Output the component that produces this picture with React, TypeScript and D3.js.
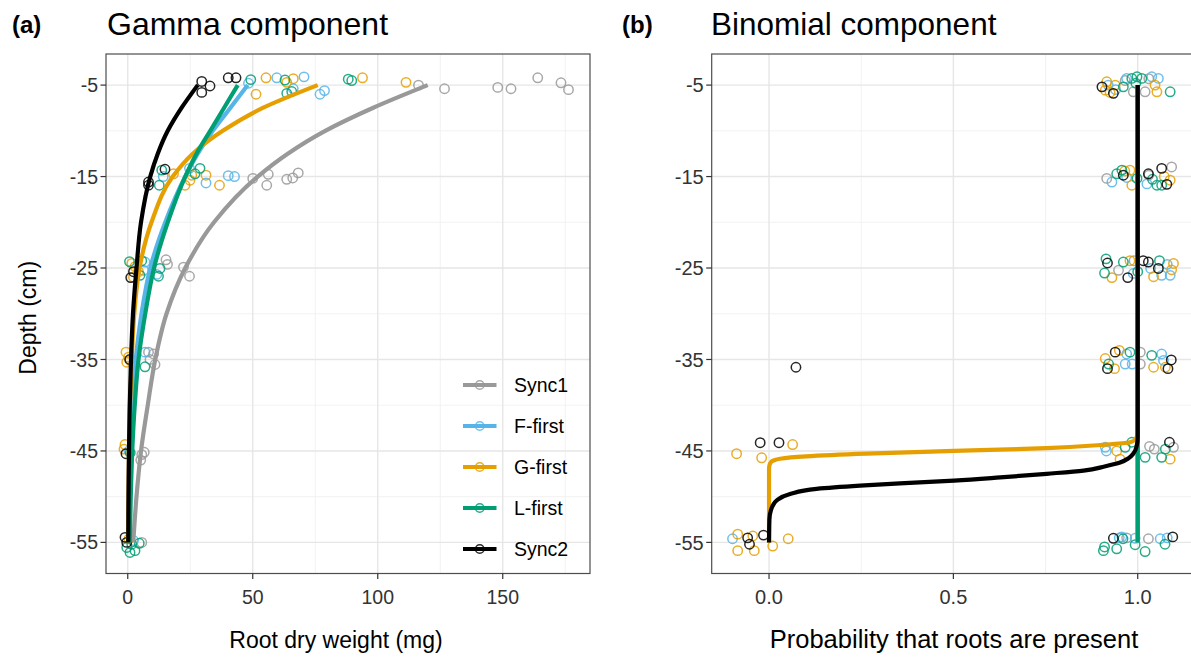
import React from "react";
import * as d3 from "d3";

// ---------- DATA ----------
const groups = ["Sync1", "F-first", "G-first", "L-first", "Sync2"];
const groupColors = ["#999999", "#56B4E9", "#E69F00", "#009E73", "#000000"];

const depthTicks = [-5, -15, -25, -35, -45, -55];
const depthMinor = [-10, -20, -30, -40, -50];
const weightTicks = [0, 50, 100, 150];
const weightMinor = [25, 75, 125, 175];
const probTicks = [0, 0.5, 1];
const probTickLabels = ["0.0", "0.5", "1.0"];
const probMinor = [0.25, 0.75];

// Gamma-component fitted curves (root dry weight, mg) at depths
const gammaDepths = [-5, -7.5, -10, -12.5, -15, -20, -25, -30, -35, -40, -45, -50, -55];
const gammaSync1 = [120, 98, 79, 64, 52, 34.5, 23, 15.5, 11, 8, 5.3, 3.5, 2.2];
const gammaFfirst = [48, 41, 34, 28, 23, 15, 9, 5.5, 3.2, 1.9, 1.2, 0.8, 0.5];
const gammaGfirst = [76, 54, 38, 26, 18, 9.5, 4.7, 2.6, 1.6, 0.9, 0.5, 0.3, 0.2];
const gammaLfirst = [44, 38.5, 33, 27.5, 23, 16, 10.5, 7, 4.3, 2.8, 1.8, 1.2, 0.8];
const gammaSync2 = [28, 21.5, 16, 12, 9, 5.3, 3.5, 2.1, 1.3, 0.8, 0.5, 0.3, 0.2];

// Binomial-component fitted curves (probability) at depths
const binomFlatDepths = [-5, -55];
const binomSync1 = [1, 1];
const binomFfirst = [1, 1];
const binomLfirst = [1, 1];
const binomGfirstDepths = [-5, -43, -43.7, -44.05, -44.35, -44.7, -45.0, -45.3, -45.6, -45.85, -46.05, -46.3, -46.6, -47, -55];
const binomGfirst = [1, 1, 0.995, 0.979, 0.898, 0.753, 0.502, 0.265, 0.1, 0.03, 0.012, 0.004, 0.001, 0, 0];
const binomSync2Depths = [-5, -43.5, -44.5, -45.3, -45.8, -46.3, -46.7, -47.15, -47.5, -47.9, -48.25, -48.55, -48.8, -49.15, -49.7, -50.4, -51, -51.5, -52.5, -55];
const binomSync2 = [1, 1, 0.997, 0.988, 0.975, 0.95, 0.91, 0.853, 0.753, 0.627, 0.502, 0.355, 0.247, 0.129, 0.057, 0.021, 0.01, 0.005, 0.001, 0];

// Observed points: [value, depth]
const ptsGammaSync1 = [
  [116.3, -5.0], [126.7, -5.4], [148, -5.25], [153.3, -5.4], [164, -4.2], [173.3, -4.75], [176.3, -5.5],
  [50, -15.2], [55.6, -15.95], [56.2, -14.75], [63.6, -15.3], [66, -15.15], [68.2, -14.6],
  [15.3, -24.1], [15.9, -24.6], [22.3, -24.9], [24.7, -25.9],
  [8.3, -34.2], [10.3, -34.4], [10.9, -35.55], [8.9, -35.0],
  [5.6, -45.4], [6.6, -45.15], [5.2, -46.0],
  [5.6, -55.0],
];
const ptsGammaFfirst = [
  [48.3, -4.8], [59.6, -4.2], [70.5, -4.1], [66.2, -5.4], [76.9, -6.0], [78.7, -5.6],
  [14.2, -15.0], [24.7, -14.1], [31.3, -15.7], [40.2, -14.9], [42.7, -15.0],
  [6.3, -25.25], [6.9, -24.35], [11.6, -25.7],
  [6.9, -34.2],
  [0.5, -45.0],
  [2.3, -54.8],
];
const ptsGammaGfirst = [
  [55.3, -4.2], [66.2, -4.3], [63.6, -4.7], [51.3, -6.0], [93.9, -4.2], [111.3, -4.7],
  [18.3, -14.7], [22.9, -15.95], [24.9, -15.4], [25.6, -14.85], [31.3, -14.85], [36.7, -15.95],
  [1.6, -24.5], [2.9, -24.85], [4.3, -25.4], [2.3, -26.0],
  [-0.7, -34.2], [0.3, -34.75], [-0.4, -35.3], [0.9, -35.1],
  [-1.1, -44.3], [-1.5, -44.8],
  [0.5, -54.6],
];
const ptsGammaLfirst = [
  [49.2, -4.4], [62.9, -4.45], [63.6, -5.9], [65.6, -5.7], [88.2, -4.35], [89.6, -4.5],
  [12.6, -15.95], [13.6, -14.3], [28.9, -14.1], [26.9, -14.7],
  [0.7, -24.3], [5.6, -24.2], [4.9, -25.8], [12.3, -25.9], [12.9, -25.05],
  [6.9, -35.8],
  [1.0, -45.2],
  [-0.4, -55.55], [0.9, -56.1], [2.9, -55.9], [4.6, -55.1], [1.6, -55.2],
];
const ptsGammaSync2 = [
  [29.6, -4.6], [32.9, -5.1], [29.6, -5.8], [40.2, -4.2], [43.3, -4.2],
  [8.3, -15.6], [14.9, -14.2], [8.3, -15.95],
  [1.2, -26.05], [2.3, -25.4],
  [0.8, -35.0],
  [-0.7, -45.3],
  [-1.1, -54.45], [-0.4, -55.0],
];

const ptsBinomSync1 = [
  [0.988, -5.73], [1.02, -5.73], [0.966, -4.5], [1.03, -4.3],
  [0.916, -15.2], [1.03, -14.85], [1.092, -13.95],
  [0.948, -25.25], [0.99, -24.2],
  [1.007, -34.2], [1.007, -35.5],
  [1.032, -44.5], [1.045, -44.8], [1.097, -44.6],
  [1.029, -54.6], [0.97, -54.5],
];
const ptsBinomFfirst = [
  [0.97, -4.27], [1.038, -4.09], [1.056, -4.27], [0.92, -5.0], [0.94, -5.5],
  [0.93, -15.6], [1.025, -15.8], [0.97, -15.1],
  [0.988, -25.6], [1.035, -25.05], [1.088, -25.8], [1.065, -25.8], [1.08, -24.6],
  [0.966, -35.5], [0.985, -35.5], [1.065, -34.4], [1.07, -35.1], [0.97, -34.4],
  [0.912, -44.6], [0.915, -45.0],
  [-0.099, -54.6], [0.957, -54.4], [0.993, -54.55], [1.061, -54.6], [1.08, -54.5], [0.95, -54.5],
];
const ptsBinomGfirst = [
  [0.916, -4.64], [0.939, -5.0], [0.912, -5.55], [1.052, -5.73], [1.047, -5.0], [0.925, -5.8],
  [0.979, -14.3], [0.984, -15.95], [1.088, -15.4], [0.965, -14.4], [1.072, -15.0],
  [0.93, -26.05], [0.979, -24.2], [1.043, -25.95], [1.097, -24.5], [1.092, -25.2],
  [0.95, -34.0], [0.912, -34.9], [0.937, -36.0], [1.043, -35.85], [1.075, -35.85],
  [0.064, -44.3], [-0.088, -45.3], [-0.02, -45.75], [0.943, -45.0], [0.952, -45.9], [1.088, -45.9],
  [-0.085, -54.1], [-0.044, -54.3], [-0.085, -55.9], [-0.04, -55.9], [0.01, -55.4], [0.052, -54.6],
];
const ptsBinomLfirst = [
  [0.961, -5.19], [0.984, -4.27], [0.998, -4.09], [1.011, -4.27], [1.088, -5.73], [0.995, -4.8],
  [0.943, -14.7], [0.957, -14.3], [0.998, -15.2], [1.052, -15.95], [1.065, -15.95], [1.04, -15.3],
  [0.914, -24.0], [0.91, -25.55], [0.961, -24.35], [1.059, -24.2], [1.0, -25.4],
  [0.921, -35.5], [0.979, -34.2], [1.038, -34.55],
  [0.966, -44.6], [0.984, -44.05], [1.02, -45.7], [1.065, -45.7], [1.075, -44.8],
  [0.907, -55.9], [0.91, -55.5], [0.943, -55.7], [0.993, -55.25], [1.02, -56.0], [1.074, -55.2], [0.96, -54.6],
];
const ptsBinomSync2 = [
  [0.903, -5.19], [0.934, -5.9],
  [0.961, -14.85], [1.029, -14.7], [1.065, -14.1], [1.079, -15.85],
  [0.918, -24.45], [0.973, -26.05], [1.015, -24.2], [1.029, -24.35], [1.056, -25.05],
  [0.939, -34.2], [0.918, -36.0], [1.091, -35.05], [1.082, -36.0], [0.073, -35.85],
  [-0.024, -44.1], [0.027, -44.1], [1.086, -44.05],
  [-0.058, -54.5], [-0.053, -55.2], [-0.015, -54.2], [0.934, -54.55], [1.095, -54.4],
];

// ---------- LAYOUT ----------
const W = 1191;
const H = 659;
const FONT = "'Liberation Sans', Arial, Helvetica, sans-serif";
const PT = 54;
const PB = 573.5;
const LX0 = 106;
const LX1 = 590;
const RX0 = 711.7;
const RX1 = 1198;

const yS = d3.scaleLinear().domain([-1.6, -58.4]).range([PT, PB]);
const xL = d3.scaleLinear().domain([-8.7, 184.9]).range([LX0, LX1]);
const xR = d3.scaleLinear().domain([-0.1555, 1.1635]).range([RX0, RX1]);

const gammaCurves = [gammaSync1, gammaFfirst, gammaGfirst, gammaLfirst, gammaSync2].map((vals) =>
  vals.map((v, i) => [v, gammaDepths[i]])
);
const binomCurves = [
  binomSync1.map((v, i) => [v, binomFlatDepths[i]]),
  binomFfirst.map((v, i) => [v, binomFlatDepths[i]]),
  binomGfirst.map((v, i) => [v, binomGfirstDepths[i]]),
  binomLfirst.map((v, i) => [v, binomFlatDepths[i]]),
  binomSync2.map((v, i) => [v, binomSync2Depths[i]]),
];
const gammaPts = [ptsGammaSync1, ptsGammaFfirst, ptsGammaGfirst, ptsGammaLfirst, ptsGammaSync2];
const binomPts = [ptsBinomSync1, ptsBinomFfirst, ptsBinomGfirst, ptsBinomLfirst, ptsBinomSync2];

const TICK_COL = "#333333";

function Panel({ id, x, x0, x1, xTicks, xTickLabels, xMinor, curves, pts, xTitle, xTitleX, xTitleSize, tickSize, legend }) {
  const line = d3
    .line()
    .x((d) => x(d[0]))
    .y((d) => yS(d[1]))
    .curve(d3.curveMonotoneY);
  const clipId = "clip-" + id;
  return (
    <g>
      <defs>
        <clipPath id={clipId}>
          <rect x={x0} y={PT} width={x1 - x0} height={PB - PT} />
        </clipPath>
      </defs>
      <rect x={x0} y={PT} width={x1 - x0} height={PB - PT} fill="#ffffff" />
      {xMinor.map((t) => (
        <line key={"xm" + t} x1={x(t)} x2={x(t)} y1={PT} y2={PB} stroke="#f0f0f0" strokeWidth={0.9} />
      ))}
      {depthMinor.map((t) => (
        <line key={"ym" + t} x1={x0} x2={x1} y1={yS(t)} y2={yS(t)} stroke="#f0f0f0" strokeWidth={0.9} />
      ))}
      {xTicks.map((t) => (
        <line key={"xg" + t} x1={x(t)} x2={x(t)} y1={PT} y2={PB} stroke="#e6e6e6" strokeWidth={1.4} />
      ))}
      {depthTicks.map((t) => (
        <line key={"yg" + t} x1={x0} x2={x1} y1={yS(t)} y2={yS(t)} stroke="#e6e6e6" strokeWidth={1.4} />
      ))}
      <g clipPath={`url(#${clipId})`}>
        {pts.map((arr, gi) =>
          arr.map((p, i) => (
            <circle
              key={gi + "-" + i}
              cx={x(p[0])}
              cy={yS(p[1])}
              r={4.7}
              fill="none"
              stroke={groupColors[gi]}
              strokeOpacity={0.85}
              strokeWidth={1.5}
            />
          ))
        )}
        {curves.map((c, gi) => (
          <path
            key={"c" + gi}
            d={line(c)}
            fill="none"
            stroke={groupColors[gi]}
            strokeWidth={4.2}
            strokeLinecap="butt"
          />
        ))}
      </g>
      <rect x={x0} y={PT} width={x1 - x0} height={PB - PT} fill="none" stroke="#4d4d4d" strokeWidth={1.2} />
      {depthTicks.map((t) => (
        <g key={"yt" + t}>
          <line x1={x0 - 5.5} x2={x0} y1={yS(t)} y2={yS(t)} stroke={TICK_COL} strokeWidth={1.2} />
          <text
            x={x0 - 8}
            y={yS(t)}
            dy="0.36em"
            textAnchor="end"
            fontSize={tickSize}
            fill={TICK_COL}
            fontFamily={FONT}
          >
            {String(t)}
          </text>
        </g>
      ))}
      {xTicks.map((t, i) => (
        <g key={"xt" + t}>
          <line x1={x(t)} x2={x(t)} y1={PB} y2={PB + 5.5} stroke={TICK_COL} strokeWidth={1.2} />
          <text
            x={x(t)}
            y={PB + 30}
            textAnchor="middle"
            fontSize={tickSize}
            fill={TICK_COL}
            fontFamily={FONT}
          >
            {xTickLabels[i]}
          </text>
        </g>
      ))}
      <text x={xTitleX} y={648} textAnchor="middle" fontSize={xTitleSize} fill="#000" fontFamily={FONT}>
        {xTitle}
      </text>
      {legend}
    </g>
  );
}

function Legend() {
  const lx0 = 463;
  const lx1 = 496.5;
  const rowY = d3.scaleLinear().domain([0, 4]).range([385, 549]);
  return (
    <g>
      {groups.map((g, i) => (
        <g key={g}>
          <line x1={lx0} x2={lx1} y1={rowY(i)} y2={rowY(i)} stroke={groupColors[i]} strokeWidth={4.2} />
          <circle
            cx={(lx0 + lx1) / 2}
            cy={rowY(i)}
            r={4.3}
            fill="none"
            stroke={groupColors[i]}
            strokeOpacity={0.85}
            strokeWidth={1.5}
          />
          <text x={514} y={rowY(i)} dy="0.36em" fontSize={19.5} fill="#000" fontFamily={FONT}>
            {g}
          </text>
        </g>
      ))}
    </g>
  );
}

export default function App() {
  return (
    <svg
      width={W}
      height={H}
      viewBox={`0 0 ${W} ${H}`}
      style={{ position: "absolute", left: 0, top: 0, background: "#ffffff", display: "block" }}
    >
      <rect x={0} y={0} width={W} height={H} fill="#ffffff" />
      <text x={12} y={33} fontSize={24} fontWeight="bold" fontFamily={FONT} fill="#000">
        (a)
      </text>
      <text x={107} y={35} fontSize={32} fontFamily={FONT} fill="#000">
        Gamma component
      </text>
      <text x={622} y={33} fontSize={24} fontWeight="bold" fontFamily={FONT} fill="#000">
        (b)
      </text>
      <text x={711} y={35} fontSize={31.5} fontFamily={FONT} fill="#000">
        Binomial component
      </text>
      <text
        transform={`translate(36, ${(PT + PB) / 2 + 4}) rotate(-90)`}
        textAnchor="middle"
        fontSize={23}
        fontFamily={FONT}
        fill="#000"
      >
        Depth (cm)
      </text>
      <Panel
        id="a"
        x={xL}
        x0={LX0}
        x1={LX1}
        xTicks={weightTicks}
        xTickLabels={weightTicks.map(String)}
        xMinor={weightMinor}
        curves={gammaCurves}
        pts={gammaPts}
        xTitle="Root dry weight (mg)"
        xTitleX={336}
        xTitleSize={23}
        tickSize={19.5}
        legend={<Legend />}
      />
      <Panel
        id="b"
        x={xR}
        x0={RX0}
        x1={RX1}
        xTicks={probTicks}
        xTickLabels={probTickLabels}
        xMinor={probMinor}
        curves={binomCurves}
        pts={binomPts}
        xTitle="Probability that roots are present"
        xTitleX={954}
        xTitleSize={25.5}
        tickSize={20}
        legend={null}
      />
    </svg>
  );
}
